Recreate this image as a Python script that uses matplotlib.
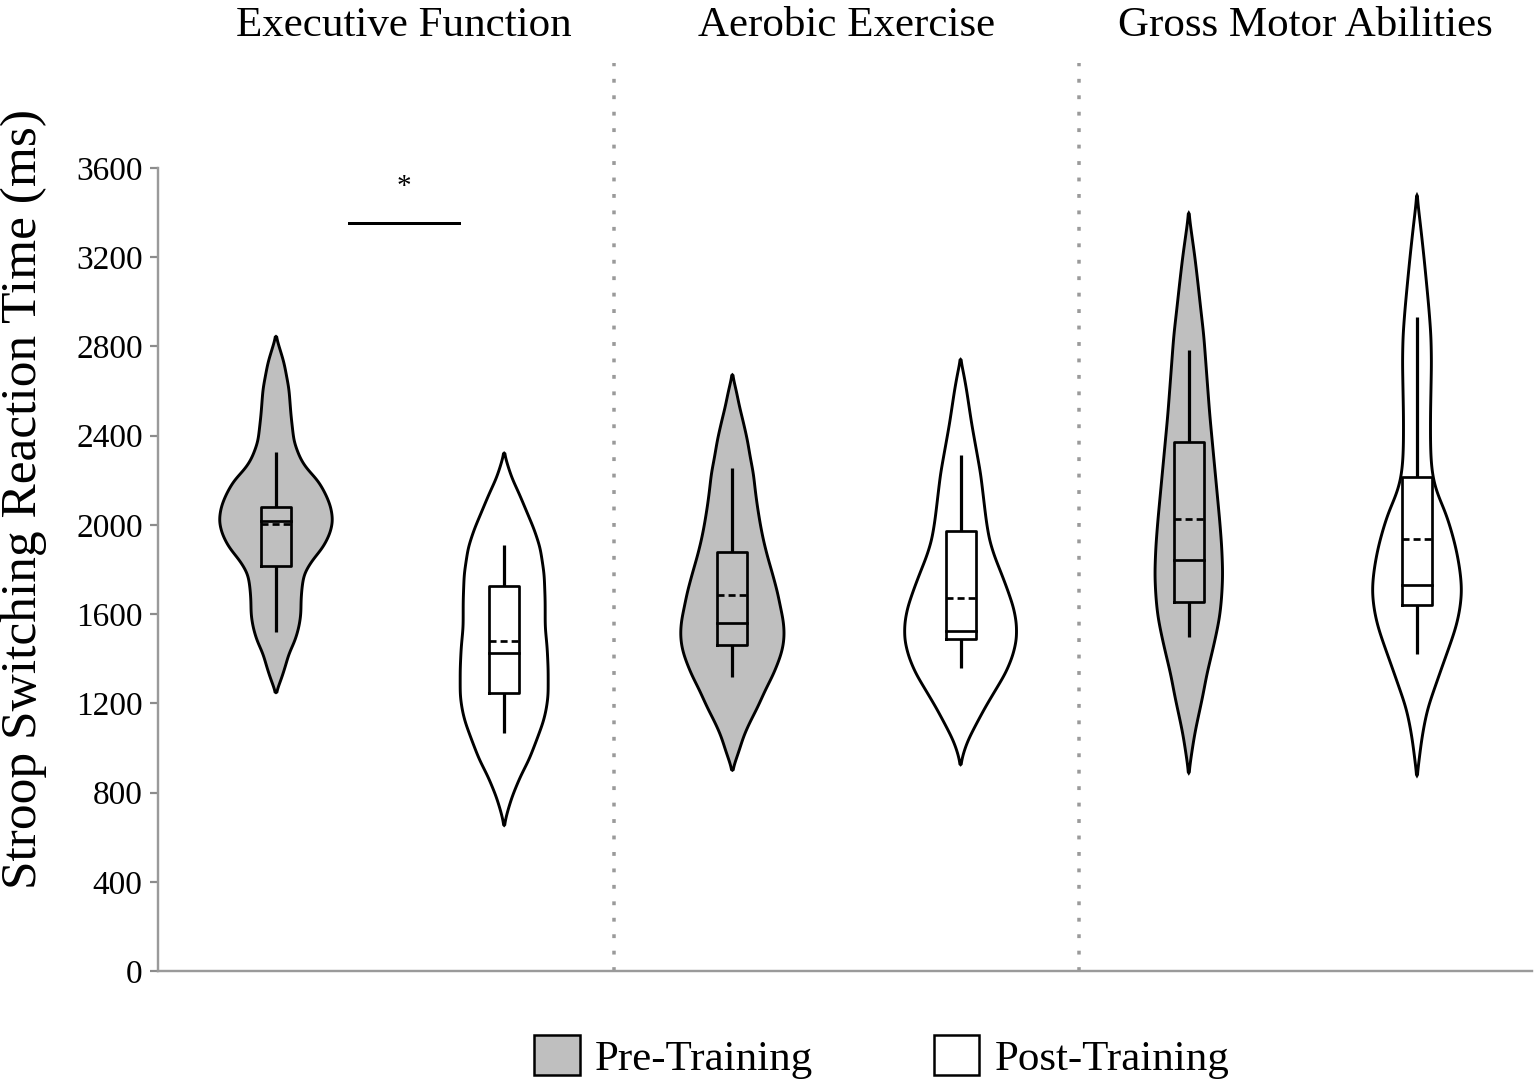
import numpy as np
import matplotlib
matplotlib.use("Agg")
import matplotlib.pyplot as plt
import matplotlib.transforms as mtrans
from matplotlib.patches import Patch

plt.rcParams['font.family'] = ['Liberation Serif', 'DejaVu Serif']

# ---------------- data ----------------
groups = ["Executive Function", "Aerobic Exercise", "Gross Motor Abilities"]
conditions = ["Pre-Training", "Post-Training"]
positions = [1, 2, 3, 4, 5, 6]          # pre/post for each group
y_ticks = [0, 400, 800, 1200, 1600, 2000, 2400, 2800, 3200, 3600]

# violin density profiles: value levels (ms) and relative half-widths
ef_pre_y = [2845, 2729, 2610, 2492, 2373, 2300, 2255, 2200, 2136, 2080, 2017, 1960, 1898, 1840,
            1780, 1720, 1661, 1600, 1542, 1480, 1424, 1360, 1305, 1248]
ef_pre_w = [0, 8, 13, 15, 18, 24, 30, 42, 50, 55, 57, 54, 47, 36, 28, 26, 25, 25, 23, 19, 13, 9, 5, 0]

ef_post_y = [2322, 2260, 2207, 2140, 2065, 1980, 1898, 1780, 1660, 1542, 1450, 1353, 1234, 1170,
             1115, 1030, 949, 870, 783, 710, 653]
ef_post_w = [0, 4, 8, 15, 22, 30, 36, 40, 41, 41, 43, 44, 44, 42, 39, 32, 25, 16, 8, 3, 0]

ae_pre_y = [2673, 2600, 2532, 2460, 2381, 2300, 2232, 2150, 2083, 2000, 1932, 1860, 1783, 1700,
            1634, 1570, 1514, 1460, 1409, 1330, 1260, 1180, 1111, 1050, 991, 940, 900]
ae_pre_w = [0, 4, 7, 11, 15, 18, 21, 23, 25, 28, 31, 35, 40, 45, 48, 51, 52, 51, 48, 41, 33, 25,
            17, 11, 7, 3, 0]

ae_post_y = [2742, 2680, 2605, 2530, 2456, 2380, 2306, 2230, 2157, 2080, 2008, 1930, 1858, 1780,
             1709, 1630, 1559, 1484, 1410, 1335, 1260, 1185, 1110, 1036, 980, 925]
ae_post_w = [0, 3, 6, 8.5, 11, 14, 17, 20, 22, 24, 26, 29, 34, 41, 47, 53, 56, 56, 52, 45, 35, 25,
             16, 7.5, 3, 0]

gm_pre_y = [3398, 3300, 3205, 3090, 2967, 2850, 2730, 2610, 2492, 2373, 2254, 2135, 2016, 1900,
            1779, 1680, 1589, 1500, 1422, 1330, 1232, 1150, 1066, 980, 888]
gm_pre_w = [0, 3, 6, 9, 12, 15, 17, 19, 21, 23.5, 26, 28.5, 31, 33, 34, 33, 31, 27, 23, 18, 14,
            10, 6, 3, 0]

gm_post_y = [3478, 3400, 3324, 3200, 3086, 2967, 2848, 2730, 2611, 2490, 2373, 2290, 2206, 2130,
             2064, 1980, 1897, 1800, 1707, 1620, 1540, 1450, 1350, 1260, 1183, 1100, 1017, 940, 876]
gm_post_w = [0, 2, 4, 7, 9.5, 12, 14, 14.5, 14, 13.5, 13.5, 14, 16, 21, 28, 34, 39, 43, 45, 43,
             39, 32, 24, 17, 11, 7, 4, 2, 0]

# box statistics (ms)
q1 = [1815, 1246, 1461, 1487, 1655, 1641]
q3 = [2081, 1728, 1880, 1973, 2373, 2213]
medians = [2017, 1424, 1561, 1524, 1843, 1731]
means = [2003, 1478, 1688, 1674, 2028, 1938]
whisker_lo = [1519, 1068, 1319, 1357, 1498, 1422]
whisker_hi = [2326, 1910, 2254, 2313, 2784, 2931]

# significance annotation
sig_x = [1.32, 1.80]
sig_y = 3355
sig_label = "*"

title_x = [1.56, 3.50, 5.51]
separators = [2.48, 4.52]

# ---------------- style ----------------
W, H, DPI = 1535, 1092, 100
PX = 72.0 / DPI
pre_color = "#bfbfbf"
post_color = "#ffffff"
face_colors = [pre_color, post_color] * 3
width_scale = 1 / 228.2
box_half = 15 * width_scale

fig = plt.figure(figsize=(W / DPI, H / DPI), dpi=DPI)
ax = fig.add_axes([158 / W, 121 / H, (1532 - 158) / W, (971 - 63) / H])
ax.set_xlim(0.483, 6.504)
ax.set_ylim(0, 4071)

profiles = [(ef_pre_y, ef_pre_w), (ef_post_y, ef_post_w), (ae_pre_y, ae_pre_w),
            (ae_post_y, ae_post_w), (gm_pre_y, gm_pre_w), (gm_post_y, gm_post_w)]


def smooth_profile(yv, wv):
    yv = np.asarray(yv, float)[::-1]
    wv = np.asarray(wv, float)[::-1]
    grid = np.linspace(yv[0], yv[-1], 600)
    w = np.interp(grid, yv, wv)
    k = np.exp(-0.5 * (np.arange(-25, 26) / 9.0) ** 2)
    k /= k.sum()
    wp = np.pad(w, 25, mode="constant")
    ws = np.convolve(wp, k, mode="same")[25:-25]
    ws[0] = 0
    ws[-1] = 0
    return grid, ws


for i, (yv, wv) in enumerate(profiles):
    pos = positions[i]
    g, w = smooth_profile(yv, wv)
    xs = np.concatenate([pos - w * width_scale, (pos + w * width_scale)[::-1]])
    ys = np.concatenate([g, g[::-1]])
    ax.fill(xs, ys, facecolor=face_colors[i], edgecolor="black", lw=2.9 * PX, zorder=2,
            joinstyle="miter")
    # whiskers
    ax.plot([pos, pos], [q3[i], whisker_hi[i]], color="black", lw=3.2 * PX, zorder=3,
            solid_capstyle="butt")
    ax.plot([pos, pos], [whisker_lo[i], q1[i]], color="black", lw=3.2 * PX, zorder=3,
            solid_capstyle="butt")
    # box
    ax.plot([pos - box_half, pos + box_half, pos + box_half, pos - box_half, pos - box_half],
            [q1[i], q1[i], q3[i], q3[i], q1[i]], color="black", lw=2.7 * PX, zorder=3)
    ax.plot([pos - box_half, pos + box_half], [medians[i]] * 2, color="black", lw=2.7 * PX,
            zorder=3)
    ax.plot([pos - box_half, pos + box_half], [means[i]] * 2, color="black", lw=2.7 * PX,
            zorder=3, linestyle=(0, (2.6, 1.5)))

# separators
for s in separators:
    ax.axvline(s, color="#9a9a9a", lw=3.5 * PX, linestyle=(0, (1.1, 3.6)), zorder=1)

# significance
ax.plot(sig_x, [sig_y, sig_y], color="black", lw=3 * PX, zorder=3)
ax.text(np.mean(sig_x), sig_y + 100, sig_label, ha="center", va="bottom", fontsize=21)

# axes styling
for sp in ["top", "right"]:
    ax.spines[sp].set_visible(False)
ax.spines["left"].set_bounds(0, 3600)
for sp in ["left", "bottom"]:
    ax.spines[sp].set_color("#9a9a9a")
    ax.spines[sp].set_linewidth(2.4 * PX)
ax.set_yticks(y_ticks)
ax.set_yticklabels([str(t) for t in y_ticks])
ax.tick_params(axis="y", direction="out", length=6, width=2.2 * PX,
               color="#8c8c8c", labelsize=24, pad=5)
ax.set_xticks([])

# group titles
title_tf = mtrans.blended_transform_factory(ax.transData, fig.transFigure)
for tx, name in zip(title_x, groups):
    ax.text(tx, 1 - 26 / H, name, transform=title_tf, ha="center", va="center", fontsize=31)

# y label
fig.text(24 / W, 1 - 499 / H, "Stroop Switching Reaction Time (ms)", rotation=90,
         ha="center", va="center", fontsize=37)

# legend
handles = [Patch(facecolor=pre_color, edgecolor="black", lw=1.8),
           Patch(facecolor=post_color, edgecolor="black", lw=1.8)]
fig.legend(handles, conditions, loc="center", bbox_to_anchor=(882 / W, 1 - 1057 / H), ncol=2,
           frameon=False, fontsize=31, handlelength=1.05, handleheight=1.05,
           handletextpad=0.36, columnspacing=2.8, borderaxespad=0)

fig.savefig("out.png", dpi=DPI)
